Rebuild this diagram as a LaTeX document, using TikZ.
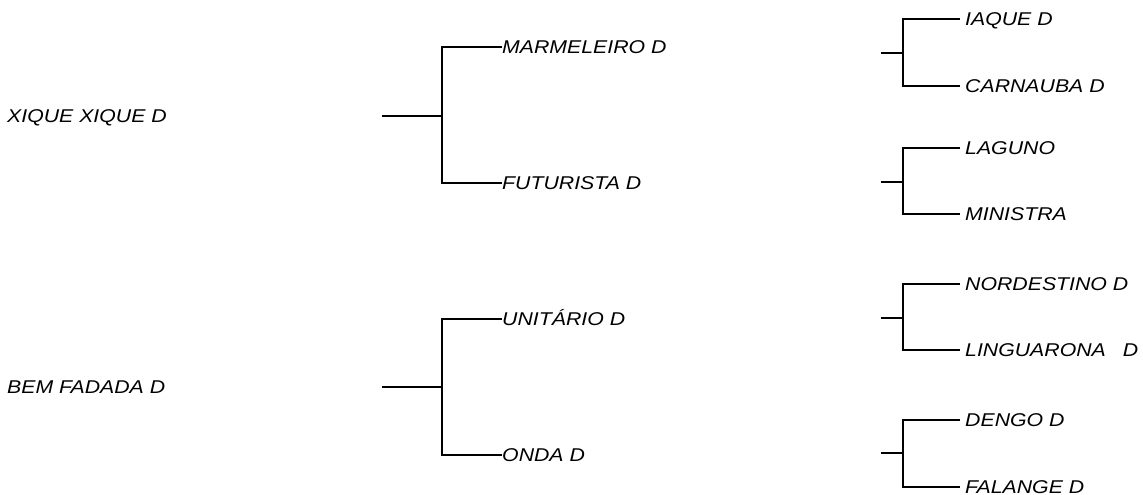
\documentclass[tikz,border=0pt]{standalone}
\usepackage{fontspec}
\setmainfont{Liberation Sans}[FakeStretch=1.15]
\begin{document}
\begin{tikzpicture}[x=1pt,y=-1pt,
  lbl/.style={anchor=west,inner sep=0pt,font=\fontsize{18.5}{21}\selectfont\itshape,text height=13.2pt,text depth=0pt},
  ln/.style={line width=2.5pt}]
\useasboundingbox (0,0) rectangle (1143,495);
% left labels
\node[lbl] (xx) at (7,116) {XIQUE XIQUE D};
\node[lbl] (bf) at (7,387) {BEM FADADA D};
% middle groups
\coordinate (s1) at (382,116);
\coordinate (b1) at (442,116);
\node[lbl] (marm) at (502,47) {MARMELEIRO D};
\node[lbl] (fut) at (502,183) {FUTURISTA D};
\draw[ln] (s1) -- (b1);
\draw[ln] (marm.west) -| (b1) |- (fut.west);
\coordinate (s2) at (382,387);
\coordinate (b2) at (442,387);
\node[lbl] (uni) at (502,319) {UNITÁRIO D};
\node[lbl] (onda) at (502,455) {ONDA D};
\draw[ln] (s2) -- (b2);
\draw[ln] (uni.west) -| (b2) |- (onda.west);
% right groups
\tikzset{rl/.style={lbl,xshift=5pt}}
\coordinate (rs1) at (881,53);
\coordinate (rb1) at (903,53);
\coordinate (e1a) at (960,19);
\coordinate (e1b) at (960,86);
\node[rl] (iaque) at (e1a) {IAQUE D};
\node[rl] (carn) at (e1b) {CARNAUBA D};
\draw[ln] (rs1) -- (rb1);
\draw[ln] (e1a) -| (rb1) |- (e1b);
\coordinate (rs2) at (881,182);
\coordinate (rb2) at (903,182);
\coordinate (e2a) at (960,148);
\coordinate (e2b) at (960,214);
\node[rl] (lag) at (e2a) {LAGUNO};
\node[rl] (min) at (e2b) {MINISTRA};
\draw[ln] (rs2) -- (rb2);
\draw[ln] (e2a) -| (rb2) |- (e2b);
\coordinate (rs3) at (881,318);
\coordinate (rb3) at (903,318);
\coordinate (e3a) at (960,284);
\coordinate (e3b) at (960,350);
\node[rl] (nord) at (e3a) {NORDESTINO D};
\node[rl] (ling) at (e3b) {LINGUARONA\hspace{17pt}D};
\draw[ln] (rs3) -- (rb3);
\draw[ln] (e3a) -| (rb3) |- (e3b);
\coordinate (rs4) at (881,453);
\coordinate (rb4) at (903,453);
\coordinate (e4a) at (960,420);
\coordinate (e4b) at (960,487);
\node[rl] (deng) at (e4a) {DENGO D};
\node[rl] (fal) at (e4b) {FALANGE D};
\draw[ln] (rs4) -- (rb4);
\draw[ln] (e4a) -| (rb4) |- (e4b);
\end{tikzpicture}
\end{document}
